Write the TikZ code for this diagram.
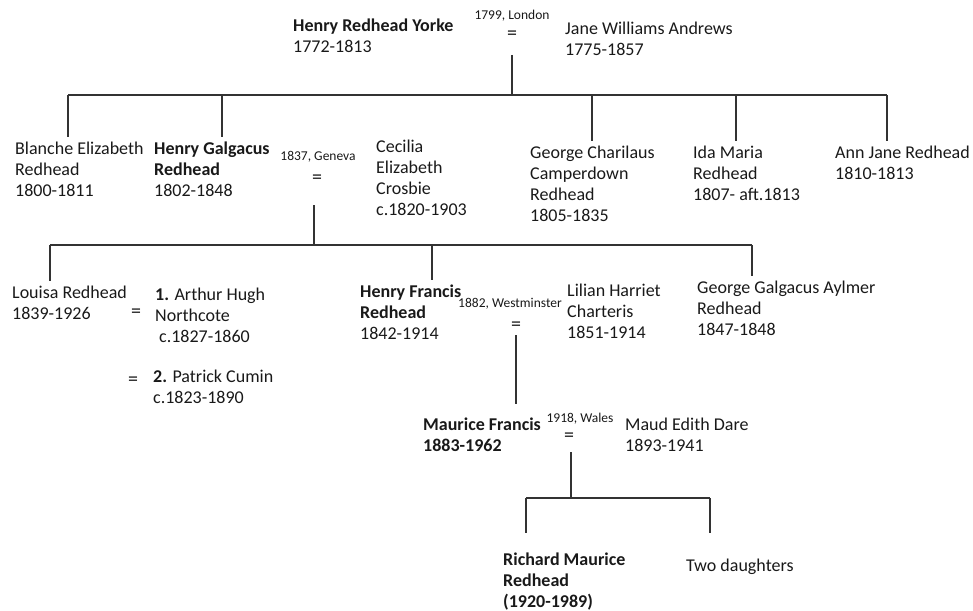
\documentclass[tikz,border=0pt]{standalone}
\usepackage{fontspec}
\setmainfont{Carlito}
\newcommand\placefont{\fontsize{13.5}{15}\selectfont}
\newcommand\namefont{\fontsize{18}{21}\selectfont}

\begin{document}
\begin{tikzpicture}[x=1pt, y=-1pt,
  person/.style={anchor=north west, align=left, inner xsep=0pt, inner ysep=5pt, text=black!90, font=\namefont},
  place/.style={inner sep=0pt, text=black!90, font=\placefont},
  wed/.style={inner sep=0pt, text=black!90, font=\fontsize{20}{22}\selectfont},
  line/.style={draw=black!80, line width=1.3pt}]

\useasboundingbox (0,0) rectangle (973,610);

\node[person] (yorke) at (293,13.5) {\textbf{Henry Redhead Yorke}\\1772-1813};
\node[place] (london) at (512,16) {1799, London};
\node[wed] (wedA) at (512,35) {=};
\node[person] (jane) at (565,16.5) {Jane Williams Andrews\\1775-1857};

\node[person] (blanche) at (15,136.5) {Blanche Elizabeth\\Redhead\\1800-1811};
\node[person] (galgacus) at (154,136.5) {\textbf{Henry Galgacus}\\\textbf{Redhead}\\1802-1848};
\node[place] (geneva) at (318,157) {1837, Geneva};
\node[wed] (wedB) at (317,179) {=};
\node[person] (cecilia) at (376,134.5) {Cecilia\\Elizabeth\\Crosbie\\c.1820-1903};
\node[person] (charilaus) at (530,140.5) {George Charilaus\\Camperdown\\Redhead\\1805-1835};
\node[person] (ida) at (693,140.5) {Ida Maria\\Redhead\\1807- aft.1813};
\node[person] (ann) at (835,140.5) {Ann Jane Redhead\\1810-1813};

\node[person] (louisa) at (12,280.5) {Louisa Redhead\\1839-1926};
\node[wed] (wedC) at (136,313) {=};
\node[person] (northcote) at (155,282.5) {\textbf{1.} Arthur Hugh\\Northcote\\\hspace{4pt}c.1827-1860};
\node[wed] (wedD) at (133,381) {=};
\node[person] (cumin) at (153,364.5) {\textbf{2.} Patrick Cumin\\c.1823-1890};
\node[person] (francis) at (360,279.5) {\textbf{Henry Francis}\\\textbf{Redhead}\\1842-1914};
\node[place] (westminster) at (510,304) {1882, Westminster};
\node[wed] (wedE) at (516,326) {=};
\node[person] (lilian) at (567,278.5) {Lilian Harriet\\Charteris\\1851-1914};
\node[person] (aylmer) at (697,275.5) {George Galgacus Aylmer\\Redhead\\1847-1848};

\node[person] (maurice) at (423,412.5) {\textbf{Maurice Francis}\\\textbf{1883-1962}};
\node[place] (wales) at (580,419) {1918, Wales};
\node[wed] (wedF) at (569,437) {=};
\node[person] (maud) at (625,412.5) {Maud Edith Dare\\1893-1941};

\node[person] (richard) at (503,547.5) {\textbf{Richard Maurice}\\\textbf{Redhead}\\\textbf{(1920-1989)}};
\node[person] (daughters) at (686,553.5) {Two daughters};

\coordinate (mA) at (512,55);
\coordinate (barA) at (512,95);
\coordinate (kA1) at (68,95);
\coordinate (kA2) at (222,95);
\coordinate (kA3) at (592,95);
\coordinate (kA4) at (736,95);
\coordinate (kA5) at (887,95);
\draw[line] (mA) -- (barA);
\draw[line] (kA1) -- (kA5);
\draw[line] (kA1) -- (kA1 |- blanche.north);
\draw[line] (kA2) -- (kA2 |- galgacus.north);
\draw[line] (kA3) -- (kA3 |- charilaus.north);
\draw[line] (kA4) -- (kA4 |- ida.north);
\draw[line] (kA5) -- (kA5 |- ann.north);

\coordinate (mB) at (314,205);
\coordinate (barB) at (314,245);
\coordinate (kB1) at (50,245);
\coordinate (kB2) at (432,245);
\coordinate (kB3) at (752,245);
\draw[line] (mB) -- (barB);
\draw[line] (kB1) -- (kB3);
\draw[line] (kB1) -- (kB1 |- louisa.north);
\draw[line] (kB2) -- (kB2 |- francis.north);
\draw[line] (kB3) -- (kB3 |- aylmer.north);

\coordinate (mC) at (516,335);
\draw[line, shorten >=9pt] (mC) -- (mC |- maurice.north);

\coordinate (mD) at (571,452);
\coordinate (barD) at (571,498);
\coordinate (kD1) at (526,498);
\coordinate (kD2) at (710,498);
\draw[line] (mD) -- (barD);
\draw[line] (kD1) -- (kD2);
\draw[line, shorten >=15pt] (kD1) -- (kD1 |- richard.north);
\draw[line, shorten >=21pt] (kD2) -- (kD2 |- daughters.north);

\end{tikzpicture}
\end{document}
